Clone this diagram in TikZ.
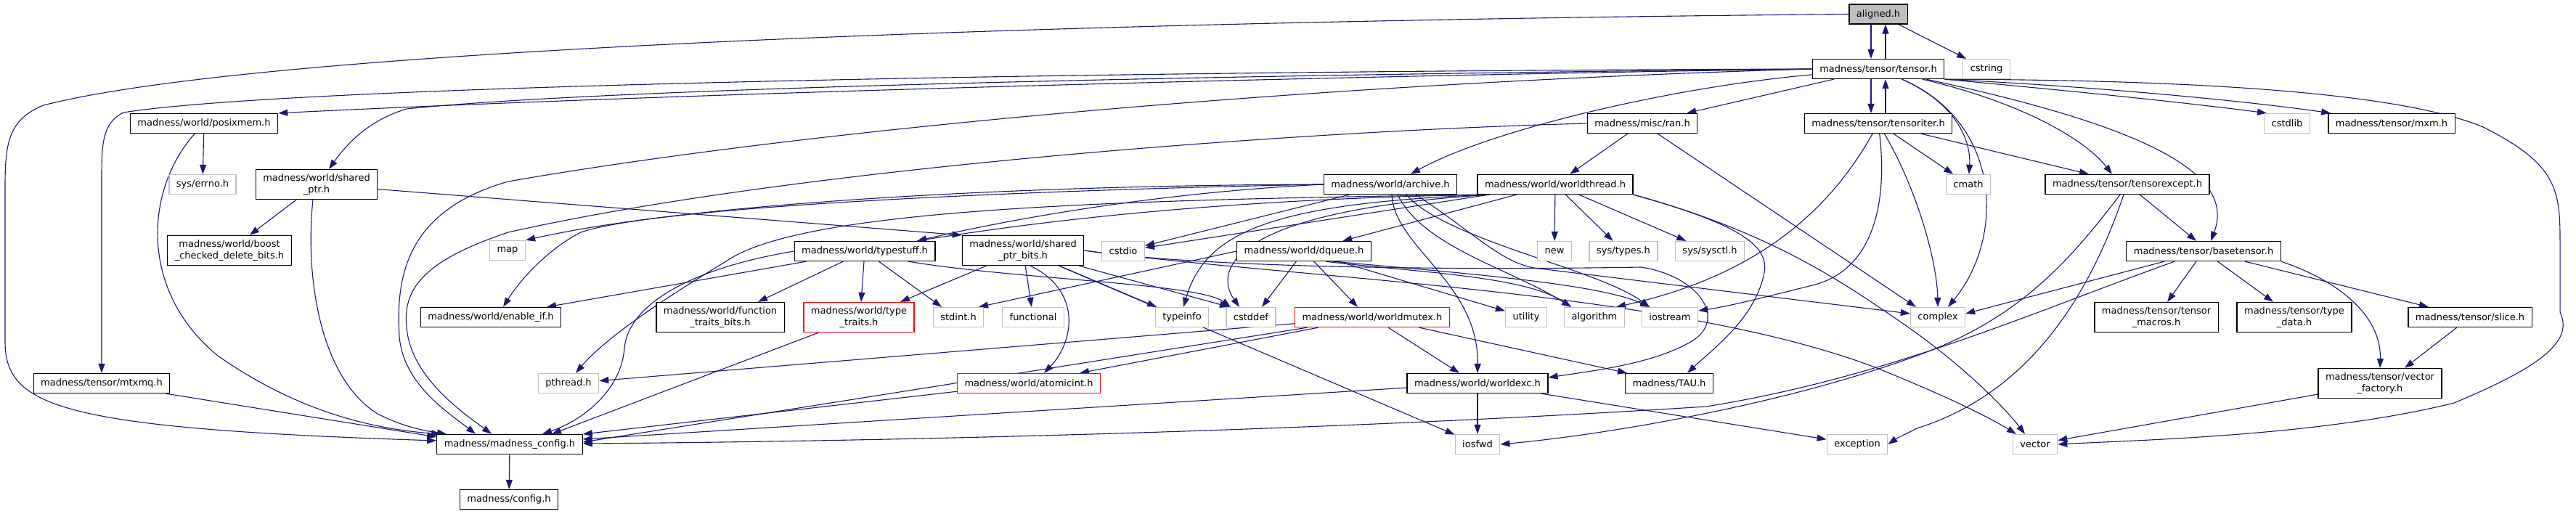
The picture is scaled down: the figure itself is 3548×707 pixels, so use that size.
\documentclass[tikz,border=0pt]{standalone}
\usepackage{fontspec}
\setmainfont{DejaVu Sans}
\usepackage{tikz}
\usetikzlibrary{arrows.meta, backgrounds}

\definecolor{edgeblue}{HTML}{191970}
\definecolor{sysgray}{HTML}{BFBFBF}

\begin{document}
\begin{tikzpicture}[
    x=1pt, y=-1pt,
    hdr/.style={rectangle, draw=black, fill=white, line width=1.3pt, inner xsep=10pt, inner ysep=6pt, minimum height=27pt, align=center, font=\fontsize{13}{16}\selectfont},
    sys/.style={hdr, draw=sysgray},
    warn/.style={hdr, draw=red},
    cur/.style={hdr, fill=sysgray},
    arr/.style={-{Triangle[length=13pt,width=9pt]}, color=edgeblue, line width=1.1pt}
]
\useasboundingbox (0,0) rectangle (3548,707);

% row 1-2
\node[cur] (aligned) at (2587,19.5) {aligned.h};
\node[hdr] (tensor) at (2587,95) {madness/tensor/tensor.h};
\node[sys] (cstring) at (2736,95) {cstring};
\node[hdr] (posixmem) at (281,170) {madness/world/posixmem.h};
\node[hdr] (ran) at (2262,170) {madness/misc/ran.h};
\node[hdr] (tensoriter) at (2587,170) {madness/tensor/tensoriter.h};
\node[sys] (cstdlib) at (3150,170) {cstdlib};
\node[hdr] (mxm) at (3294,170) {madness/tensor/mxm.h};

% row 3
\node[sys] (errno) at (279,254) {sys/errno.h};
\node[hdr] (sharedptr) at (436,254) {madness/world/shared\\\_ptr.h};
\node[hdr] (archive) at (1915,254) {madness/world/archive.h};
\node[hdr] (worldthread) at (2142,254) {madness/world/worldthread.h};
\node[sys] (cmath) at (2711,254) {cmath};
\node[hdr] (tensorexcept) at (2930,254) {madness/tensor/tensorexcept.h};

% row 4
\node[hdr] (boostcd) at (316,345) {madness/world/boost\\\_checked\_delete\_bits.h};
\node[sys] (map) at (699,345) {map};
\node[hdr] (typestuff) at (1191,346) {madness/world/typestuff.h};
\node[hdr] (sptrbits) at (1409,345) {madness/world/shared\\\_ptr\_bits.h};
\node[sys] (cstdio) at (1547,346) {cstdio};
\node[hdr] (dqueue) at (1796,346) {madness/world/dqueue.h};
\node[sys] (new) at (2141,346) {new};
\node[sys] (systypes) at (2236,346) {sys/types.h};
\node[sys] (syssysctl) at (2355,346) {sys/sysctl.h};
\node[hdr] (basetensor) at (3035,346) {madness/tensor/basetensor.h};

% row 5
\node[hdr] (enableif) at (676,437) {madness/world/enable\_if.h};
\node[hdr] (functraits) at (992,437) {madness/world/function\\\_traits\_bits.h};
\node[warn] (typetraits) at (1183,437) {madness/world/type\\\_traits.h};
\node[sys] (stdint) at (1320,437) {stdint.h};
\node[sys] (functional) at (1423,437) {functional};
\node[sys] (typeinfo) at (1628,437) {typeinfo};
\node[sys] (cstddef) at (1723,437) {cstddef};
\node[warn] (worldmutex) at (1890,437) {madness/world/worldmutex.h};
\node[sys] (utility) at (2102,437) {utility};
\node[sys] (algorithm) at (2196,437) {algorithm};
\node[sys] (iostream) at (2300,437) {iostream};
\node[sys] (complex) at (2669,437) {complex};
\node[hdr] (tmacros) at (2970,437) {madness/tensor/tensor\\\_macros.h};
\node[hdr] (typedata) at (3160,437) {madness/tensor/type\\\_data.h};
\node[hdr] (slice) at (3402,437) {madness/tensor/slice.h};

% row 6-8
\node[hdr] (mtxmq) at (140,528) {madness/tensor/mtxmq.h};
\node[sys] (pthread) at (783,528) {pthread.h};
\node[warn] (atomicint) at (1417,528) {madness/world/atomicint.h};
\node[hdr] (worldexc) at (2035,528) {madness/world/worldexc.h};
\node[hdr] (tau) at (2299,528) {madness/TAU.h};
\node[hdr] (vfactory) at (3278,528) {madness/tensor/vector\\\_factory.h};
\node[hdr] (madconfig) at (702,612) {madness/madness\_config.h};
\node[sys] (iosfwd) at (2035,612) {iosfwd};
\node[sys] (exception) at (2558,612) {exception};
\node[sys] (vector) at (2803,612) {vector};
\node[hdr] (config) at (701,688) {madness/config.h};

\begin{scope}[on background layer]
\fill[white] (0,0) rectangle (3548,707);

% aligned.h
\draw[arr] ([xshift=-10pt]aligned.south) -- ([xshift=-10pt]tensor.north);
\draw[arr] ([xshift=10pt]tensor.north) -- ([xshift=10pt]aligned.south);
\draw[arr] (aligned) -- (cstring);
\draw[arr] (aligned.west) .. controls (1400,30) and (350,70) .. (60,145) .. controls (10,165) and (7,200) .. (7,260) -- (7,470) .. controls (7,560) and (80,590) .. ([yshift=5pt]madconfig.west);

% tensor.h
\draw[arr] ([xshift=-10pt]tensor.south) -- ([xshift=-10pt]tensoriter.north);
\draw[arr] ([xshift=10pt]tensoriter.north) -- ([xshift=10pt]tensor.south);
\draw[arr] (tensor) -- (ran);
\draw[arr] (tensor.west) .. controls (1800,105) and (900,130) .. (posixmem.north east);
\draw[arr] (tensor.west) .. controls (1500,105) and (800,125) .. (560,150) .. controls (510,165) and (480,195) .. ([xshift=17pt]sharedptr.north);
\draw[arr] (tensor.west) .. controls (1500,98) and (400,118) .. (170,155) .. controls (140,170) and (140,200) .. (140,250) -- (mtxmq.north);
\draw[arr] (tensor.west) .. controls (1800,115) and (1100,180) .. (700,250) .. controls (560,290) and (545,380) .. (550,463) .. controls (555,530) and (620,570) .. ([xshift=-47pt]madconfig.north);
\draw[arr] (tensor.south east) .. controls (3000,110) and (3300,125) .. (3420,175) .. controls (3520,225) and (3526,260) .. (3526,330) -- (3526,430) .. controls (3545,470) and (3500,505) .. (3380,555) .. controls (3200,600) and (2950,606) .. (vector.east);
\draw[arr] (tensor.south east) .. controls (2850,125) and (3000,140) .. ([xshift=4pt]cstdlib.north west);
\draw[arr] (tensor.south east) .. controls (2900,120) and (3100,140) .. ([xshift=4pt]mxm.north west);
\draw[arr] (tensor) .. controls (2690,140) and (2715,190) .. (cmath);
\draw[arr] (tensor) .. controls (2760,170) and (2760,330) .. ([xshift=14pt]complex.north);
\draw[arr] (tensor) .. controls (2780,140) and (2870,190) .. ([xshift=-21pt]tensorexcept.north);
\draw[arr] (tensor) .. controls (2960,175) and (3080,240) .. ([xshift=10pt]basetensor.north);
\draw[arr] (tensor) .. controls (2300,120) and (2050,180) .. ([xshift=28pt]archive.north);

% tensoriter.h
\draw[arr] (tensoriter) -- (cmath);
\draw[arr] (tensoriter) .. controls (2640,260) and (2668,360) .. (complex.north);
\draw[arr] (tensoriter) -- ([xshift=-53pt]tensorexcept.north);
\draw[arr] (tensoriter) .. controls (2520,290) and (2420,380) .. ([xshift=30pt]algorithm.north);
\draw[arr] (tensoriter) .. controls (2600,280) and (2580,370) .. (2500,392) .. controls (2420,412) and (2380,422) .. ([yshift=9pt]iostream.east);

% ran.h
\draw[arr] (ran) -- (worldthread);
\draw[arr] (ran) -- ([xshift=8pt]complex.north west);
\draw[arr] (ran.west) .. controls (1800,180) and (1100,230) .. (700,320) .. controls (580,360) and (555,400) .. (560,450) .. controls (565,520) and (640,570) .. ([xshift=-25pt]madconfig.north);

% posixmem.h, shared_ptr.h, mtxmq.h
\draw[arr] (posixmem) -- (errno);
\draw[arr] (posixmem) .. controls (200,260) and (190,400) .. (300,490) .. controls (400,560) and (500,590) .. ([xshift=6pt]madconfig.north west);
\draw[arr] (sharedptr) -- (boostcd);
\draw[arr] ([xshift=-5pt]sharedptr.south) .. controls (420,380) and (440,520) .. (520,570) .. controls (550,585) and (575,592) .. ([xshift=14pt]madconfig.north west);
\draw[arr] (sharedptr) -- (sptrbits.north west);
\draw[arr] (mtxmq) -- ([yshift=-4pt]madconfig.north west);
\draw[arr] (madconfig) -- (config);

% archive.h
\draw[arr] (archive.west) .. controls (1400,255) and (950,280) .. (map.north east);
\draw[arr] (archive.west) .. controls (1400,262) and (900,285) .. (800,320) .. controls (760,340) and (720,380) .. ([xshift=17pt]enableif.north);
\draw[arr] (archive.west) .. controls (1600,265) and (1400,300) .. ([xshift=72pt]typestuff.north);
\draw[arr] (archive) -- (cstdio);
\draw[arr] ([xshift=2pt]archive.south) .. controls (1920,340) and (2037,390) .. (worldexc.north);
\draw[arr] ([xshift=10pt]archive.south) .. controls (1960,340) and (2080,370) .. ([xshift=-32pt]algorithm.north);
\draw[arr] ([xshift=22pt]archive.south) .. controls (1990,330) and (2200,370) .. ([xshift=-28pt]iostream.north);
\draw[arr] ([xshift=35pt]archive.south) .. controls (2030,320) and (2070,365) .. (2120,370) -- ([yshift=5pt]complex.west);

% worldthread.h
\draw[arr] (worldthread) -- (dqueue);
\draw[arr] (worldthread) -- (new);
\draw[arr] (worldthread) -- (systypes);
\draw[arr] (worldthread) -- (syssysctl);
\draw[arr] (worldthread) -- (cstdio);
\draw[arr] ([xshift=15pt]worldthread.south west) .. controls (1750,280) and (1660,320) .. ([xshift=2pt]typeinfo.north);
\draw[arr] ([xshift=18pt]worldthread.south west) .. controls (1700,290) and (1670,370) .. ([xshift=-16pt]cstddef.north);
\draw[arr] ([xshift=10pt]worldthread.south west) .. controls (1500,275) and (1100,290) .. (1000,360) .. controls (900,420) and (830,470) .. ([xshift=10pt]pthread.north);
\draw[arr] ([xshift=5pt]worldthread.south west) .. controls (1650,275) and (1400,310) .. ([xshift=72pt]typestuff.north);
\draw[arr] (worldthread.south east) .. controls (2400,310) and (2440,340) .. (2429,380) .. controls (2415,440) and (2360,480) .. ([xshift=25pt]tau.north);
\draw[arr] (worldthread.south east) .. controls (2440,320) and (2540,390) .. (2620,445) .. controls (2700,500) and (2760,560) .. ([xshift=-14pt]vector.north);

% dqueue.h
\draw[arr] (dqueue.west) -- ([xshift=28pt]stdint.north);
\draw[arr] (dqueue) -- ([xshift=15pt]cstddef.north);
\draw[arr] (dqueue) -- ([xshift=-20pt]worldmutex.north);
\draw[arr] (dqueue) -- (utility);
\draw[arr] ([xshift=30pt]dqueue.south) .. controls (1950,375) and (2100,380) .. ([xshift=-32pt]algorithm.north);
\draw[arr] ([xshift=40pt]dqueue.south) .. controls (2000,375) and (2200,390) .. ([xshift=-28pt]iostream.north);

% typestuff.h
\draw[arr] (typestuff) -- ([xshift=77pt]enableif.north);
\draw[arr] (typestuff) -- ([xshift=52pt]functraits.north);
\draw[arr] (typestuff) -- ([xshift=3pt]typetraits.north);
\draw[arr] (typestuff) -- ([xshift=-23pt]stdint.north);
\draw[arr] ([xshift=60pt]typestuff.south) .. controls (1400,385) and (1650,390) .. ([xshift=-28pt]cstddef.north);
\draw[arr] (typestuff.west) .. controls (950,370) and (865,420) .. (860,480) .. controls (855,540) and (800,580) .. ([xshift=45pt]madconfig.north);
\draw[arr] (typetraits) -- ([xshift=58pt]madconfig.north);

% shared_ptr_bits.h
\draw[arr] (sptrbits) -- ([xshift=57pt]typetraits.north);
\draw[arr] (sptrbits) -- (functional);
\draw[arr] (sptrbits) -- ([xshift=-35pt]typeinfo.north);
\draw[arr] (sptrbits) -- ([xshift=-30pt]cstddef.north);
\draw[arr] ([xshift=10pt]sptrbits.south) .. controls (1490,400) and (1480,470) .. ([xshift=21pt]atomicint.north);
\draw[arr] (sptrbits) -- (iosfwd);
\draw[arr] (sptrbits.east) .. controls (1700,375) and (2150,370) .. (2260,368) .. controls (2340,380) and (2380,440) .. (2330,470) .. controls (2280,500) and (2200,510) .. ([yshift=8pt]worldexc.east);
\draw[arr] (sptrbits.east) .. controls (1800,385) and (2300,400) .. (2580,505) .. controls (2680,545) and (2740,575) .. ([xshift=-26pt]vector.north);

% worldmutex.h, atomicint.h, worldexc.h
\draw[arr] (worldmutex) -- ([xshift=70pt]atomicint.north);
\draw[arr] (worldmutex) -- (pthread);
\draw[arr] (worldmutex) -- ([yshift=3pt]madconfig.east);
\draw[arr] (worldmutex) -- ([xshift=-25pt]worldexc.north);
\draw[arr] (worldmutex) -- ([xshift=-58pt]tau.north);
\draw[arr] (atomicint) -- ([yshift=14pt]madconfig.east);
\draw[arr] (worldexc) -- ([yshift=7pt]madconfig.east);
\draw[arr] (worldexc) -- (iosfwd);
\draw[arr] (worldexc) -- (exception);

% basetensor.h, tensorexcept.h
\draw[arr] (tensorexcept) -- ([xshift=-10pt]basetensor.north);
\draw[arr] (basetensor) -- ([yshift=5pt]complex.east);
\draw[arr] (basetensor) -- (tmacros);
\draw[arr] (basetensor) -- (typedata);
\draw[arr] (basetensor) -- (slice);
\draw[arr] (basetensor.south east) .. controls (3230,390) and (3280,440) .. (vfactory.north);
\draw[arr] (slice) -- ([xshift=34pt]vfactory.north);
\draw[arr] (vfactory) -- (vector);
\draw[arr] ([xshift=-40pt]basetensor.south) .. controls (2800,430) and (2600,520) .. (2350,560) .. controls (1800,595) and (1200,608) .. ([yshift=1pt]madconfig.east);
\draw[arr] ([xshift=-10pt]tensorexcept.south) .. controls (2850,360) and (2780,440) .. (2640,490) .. controls (2450,560) and (2200,600) .. (iosfwd.east);
\draw[arr] ([xshift=-5pt]tensorexcept.south) .. controls (2880,400) and (2800,540) .. (2640,590) .. controls (2625,598) and (2615,602) .. (exception.east);
\end{scope}
\end{tikzpicture}
\end{document}
